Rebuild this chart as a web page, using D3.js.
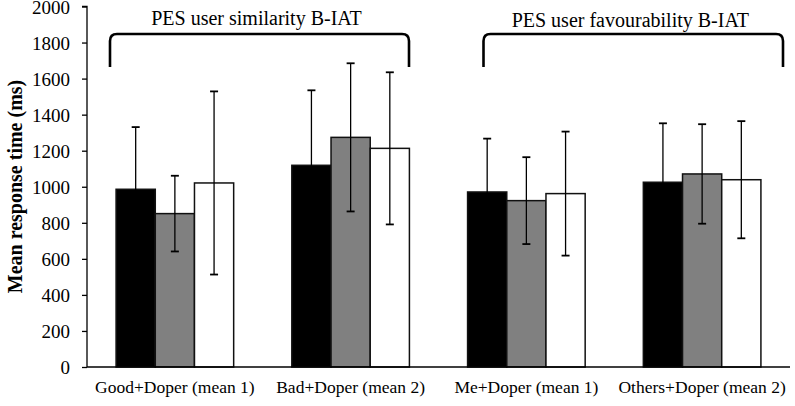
<!DOCTYPE html>
<html><head><meta charset="utf-8">
<script src="https://cdn.jsdelivr.net/npm/d3@7"></script>
<style>
html,body{margin:0;padding:0;background:#fff;}
svg{display:block;}
text{font-family:"Liberation Serif","Times New Roman",serif;fill:#000;}
</style></head>
<body><svg id="chart" width="795" height="406"></svg>
<script>
const categories = ["Good+Doper (mean 1)", "Bad+Doper (mean 2)", "Me+Doper (mean 1)", "Others+Doper (mean 2)"];
const seriesNames = ["s1", "s2", "s3"];
const means1 = [986, 1119, 971, 1025];
const means2 = [851, 1274, 923, 1071];
const means3 = [1021, 1213, 962, 1039];
const sd1 = [345, 416, 296, 327];
const sd2 = [210, 411, 241, 276];
const sd3 = [508, 422, 344, 325];
const yTicks = [0, 200, 400, 600, 800, 1000, 1200, 1400, 1600, 1800, 2000];
const groupLabels = ["PES user similarity B-IAT", "PES user favourability B-IAT"];

const fills = ["#000000", "#808080", "#ffffff"];
const means = [means1, means2, means3];
const sds = [sd1, sd2, sd3];

const svg = d3.select("#chart");
const L = 87, R = 790, T = 6.5, B = 367;

const x0 = d3.scaleBand().domain(categories).range([L, R]).padding(0);
const x1 = d3.scaleBand().domain(seriesNames).range([0, x0.bandwidth()]).paddingInner(0).paddingOuter(0.742);
const y = d3.scaleLinear().domain([0, 2000]).range([B, T]);

// y axis
const yAxis = d3.axisLeft(y).tickValues(yTicks).tickSize(5).tickPadding(12).tickFormat(d3.format("d"));
const ya = svg.append("g").attr("transform", `translate(${L},0)`).call(yAxis);
ya.select(".domain").attr("stroke", "#000").attr("stroke-width", 1.3).attr("d", `M-5,${T}H0V${B}`);
ya.selectAll(".tick line").attr("stroke", "#000").attr("stroke-width", 1.3);
ya.selectAll(".tick text").style("font-family", "'Liberation Serif',serif").style("font-size", "19px").attr("dy", "0.35em");

// bars
const data = [];
categories.forEach((c, i) => seriesNames.forEach((s, j) => data.push({c, s, j, v: means[j][i], sd: sds[j][i]})));

svg.append("g").selectAll("rect").data(data).join("rect")
  .attr("x", d => x0(d.c) + x1(d.s))
  .attr("y", d => y(d.v))
  .attr("width", x1.bandwidth())
  .attr("height", d => y(0) - y(d.v))
  .attr("fill", d => fills[d.j])
  .attr("stroke", "#111")
  .attr("stroke-width", 1.5);

// error bars
const eg = svg.append("g").attr("stroke", "#000").attr("stroke-width", 1.3).attr("fill", "none");
data.forEach(d => {
  const cx = x0(d.c) + x1(d.s) + x1.bandwidth() / 2;
  const hi = y(d.v + d.sd), lo = y(d.v - d.sd);
  eg.append("line").attr("x1", cx).attr("x2", cx).attr("y1", hi).attr("y2", lo);
  eg.append("line").attr("x1", cx - 4).attr("x2", cx + 4).attr("y1", hi).attr("y2", hi).attr("stroke-width", 1.8);
  eg.append("line").attr("x1", cx - 4).attr("x2", cx + 4).attr("y1", lo).attr("y2", lo).attr("stroke-width", 1.8);
});

// x axis line
svg.append("line").attr("x1", L).attr("x2", R).attr("y1", B).attr("y2", B).attr("stroke", "#000").attr("stroke-width", 1.3);

// x labels
svg.append("g").selectAll("text").data(categories).join("text")
  .attr("x", d => x0(d) + x0.bandwidth() / 2)
  .attr("y", 393)
  .attr("text-anchor", "middle")
  .style("font-size", "17.5px")
  .text(d => d);

// y label
svg.append("text")
  .attr("transform", `translate(22,186.5) rotate(-90)`)
  .attr("text-anchor", "middle")
  .style("font-size", "20px")
  .style("font-weight", "bold")
  .text("Mean response time (ms)");

// brackets
const bw = x0.bandwidth();
const brackets = [
  {label: groupLabels[0], x1: x0(categories[0]) + 23, x2: x0(categories[1]) + bw - 29.5, ty: 25},
  {label: groupLabels[1], x1: x0(categories[2]) + 45, x2: x0(categories[3]) + bw - 7, ty: 27}
];
const bTop = 34, bBot = 67, r = 7;
brackets.forEach(b => {
  const p = d3.path();
  p.moveTo(b.x1, bBot);
  p.lineTo(b.x1, bTop + r);
  p.quadraticCurveTo(b.x1, bTop, b.x1 + r, bTop);
  p.lineTo(b.x2 - r, bTop);
  p.quadraticCurveTo(b.x2, bTop, b.x2, bTop + r);
  p.lineTo(b.x2, bBot);
  svg.append("path").attr("d", p.toString()).attr("fill", "none").attr("stroke", "#000").attr("stroke-width", 2.6);
  svg.append("text").attr("x", (b.x1 + b.x2) / 2 - 3).attr("y", b.ty)
    .attr("text-anchor", "middle").style("font-size", "20px").text(b.label);
});
</script></body></html>
